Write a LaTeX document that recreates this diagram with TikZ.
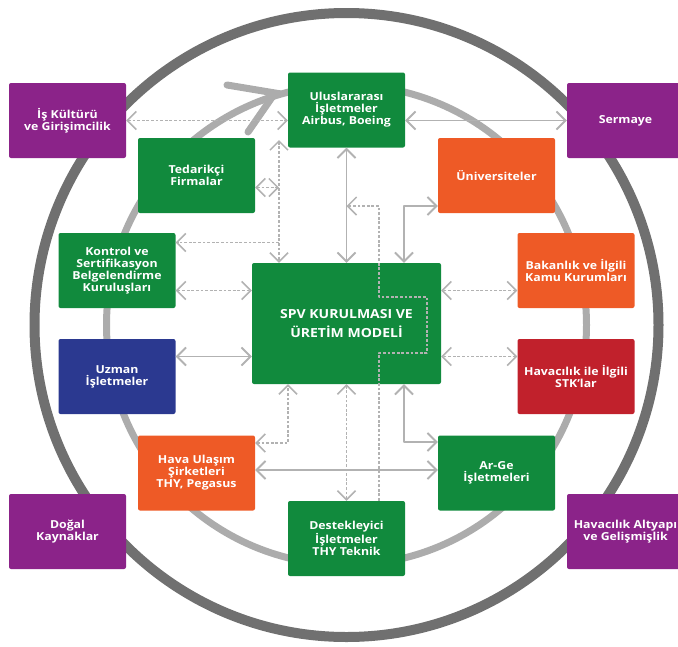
\documentclass[tikz,border=0pt]{standalone}
\usepackage{fontspec}
\setmainfont{Open Sans}[FakeStretch=1.12]
\usetikzlibrary{arrows.meta}
\definecolor{boxgreen}{RGB}{17,138,61}
\definecolor{boxpurple}{RGB}{139,35,137}
\definecolor{boxorange}{RGB}{238,90,38}
\definecolor{boxred}{RGB}{193,33,44}
\definecolor{boxnavy}{RGB}{43,57,144}
\definecolor{linkgray}{RGB}{178,178,178}
\definecolor{outergray}{RGB}{112,112,112}
\definecolor{innergray}{RGB}{172,172,172}
\begin{document}
\begin{tikzpicture}[x=1pt, y=-1pt, line join=round, line cap=round, >={Straight Barb[length=9pt,width=18pt]},
	box/.style={rectangle, rounded corners=2pt, minimum width=117pt, minimum height=75pt, inner sep=1pt, align=center, text=white, font=\bfseries\fontsize{11}{12}\selectfont},
	link/.style={draw=linkgray, line width=1.9pt},
	dlink/.style={link, line width=1.5pt, line cap=butt, dash pattern=on 2.8pt off 1.8pt}]
	\useasboundingbox (0,0) rectangle (678,646);
	\clip (0,0) rectangle (678,646);
	\def\cx{346.5} \def\cy{325}
	% the two rings
	\draw[line width=10pt, outergray] (\cx,\cy) circle[radius=312];
	\draw[line width=7pt, innergray] (\cx,\cy) circle[radius=240];
	\draw[line width=7pt, innergray, line join=miter] (227,85)--(275,93)--(248,132);
	% boxes
	\node[box, fill=boxpurple] (isk) at (67.5,120.5) {İş Kültürü\\ve Girişimcilik};
	\node[box, fill=boxgreen] (ulus) at (346.5,110) {Uluslararası\\İşletmeler\\Airbus, Boeing};
	\node[box, fill=boxpurple] (serm) at (625.5,120.5) {Sermaye};
	\node[box, fill=boxgreen] (ted) at (196.5,175.5) {Tedarikçi\\Firmalar};
	\node[box, fill=boxorange] (uni) at (496.5,175.5) {Üniversiteler};
	\node[box, fill=boxgreen] (kon) at (117,270.5) {Kontrol ve\\Sertifikasyon\\Belgelendirme\\Kuruluşları};
	\node[box, fill=boxorange] (bak) at (576,270.5) {Bakanlık ve İlgili\\Kamu Kurumları};
	\node[box, fill=boxgreen, minimum width=189pt, minimum height=121pt, font=\bfseries\fontsize{12.5}{19}\selectfont] (spv) at (346.5,323.5) {SPV KURULMASI VE\\ÜRETİM MODELİ};
	\node[box, fill=boxnavy] (uzm) at (117,376.5) {Uzman\\İşletmeler};
	\node[box, fill=boxred] (stk) at (576,376.5) {Havacılık ile İlgili\\STK'lar};
	\node[box, fill=boxorange] (hava) at (196.5,473) {Hava Ulaşım\\Şirketleri\\THY, Pegasus};
	\node[box, fill=boxgreen] (arge) at (496.5,473) {Ar-Ge\\İşletmeleri};
	\node[box, fill=boxpurple] (dogal) at (67.5,531.5) {Doğal\\Kaynaklar};
	\node[box, fill=boxgreen] (dest) at (346.5,538.5) {Destekleyici\\İşletmeler\\THY Teknik};
	\node[box, fill=boxpurple] (alt) at (625.5,531.5) {Havacılık Altyapı\\ve Gelişmişlik};
	% links
	\coordinate (vt) at (279,140);
	\draw[dlink,<->] (isk.east) -- (isk.east -| ulus.west);
	\draw[link,<->] (serm.west) -- (serm.west -| ulus.east);
	\draw[dlink,<->] (vt) -- (vt |- spv.north);
	\draw[dlink,<->] ([yshift=-12pt]ted.east) -- ([yshift=-12pt]ted.east -| vt);
	\draw[dlink,->] ([yshift=28pt]kon.east -| vt) -- ([yshift=28pt]kon.east);
	\draw[dlink,<->] ([yshift=-20pt]kon.east) -- ([yshift=-20pt]kon.east -| spv.west);
	\draw[link,<->] ([yshift=20pt]uzm.east) -- ([yshift=20pt]uzm.east -| spv.west);
	\draw[link,<->] (ulus.south) -- (spv.north);
	\draw[link,<->] ([yshift=-30.5pt]uni.west) -| ([xshift=57.5pt]spv.north);
	\draw[dlink,<->] ([yshift=-20pt]bak.west) -- ([yshift=-20pt]bak.west -| spv.east);
	\draw[dlink,<->] ([yshift=20pt]stk.west) -- ([yshift=20pt]stk.west -| spv.east);
	\draw[link,<->] ([yshift=31pt]arge.west) -| ([xshift=57.5pt]spv.south);
	\draw[link,<->] ([yshift=3pt]hava.east) -- ([yshift=3pt]hava.east -| arge.west);
	\draw[dlink,<->] ([yshift=30pt]hava.east) -| ([xshift=-58.5pt]spv.south);
	\draw[dlink,<->] (dest.north) -- (spv.south);
	\draw[dlink,->] ([xshift=32.5pt]dest.north) |- (427,353) |- (379,297) |- (ulus.south |- 0,206);
\end{tikzpicture}
\end{document}
